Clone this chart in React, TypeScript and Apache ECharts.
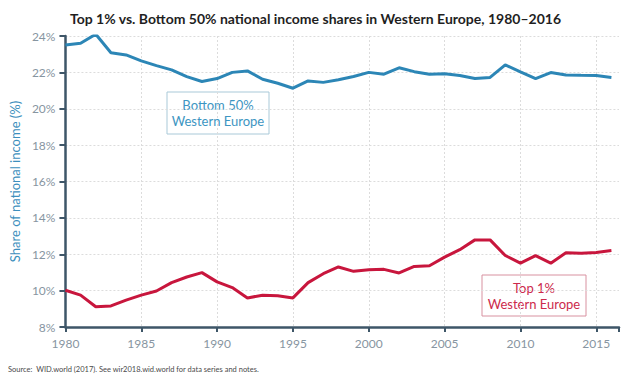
import React, { useEffect, useRef } from "react";
import * as echarts from "echarts";

const years: number[] = [
  1980, 1981, 1982, 1983, 1984, 1985, 1986, 1987, 1988, 1989, 1990, 1991, 1992,
  1993, 1994, 1995, 1996, 1997, 1998, 1999, 2000, 2001, 2002, 2003, 2004, 2005,
  2006, 2007, 2008, 2009, 2010, 2011, 2012, 2013, 2014, 2015, 2016,
];
const bottom50: number[] = [
  23.5, 23.6, 24.1, 23.08, 22.96, 22.63, 22.37, 22.14, 21.77, 21.5, 21.66, 22.0,
  22.08, 21.62, 21.4, 21.13, 21.53, 21.45, 21.59, 21.77, 22.0, 21.9, 22.25,
  22.04, 21.9, 21.92, 21.83, 21.66, 21.72, 22.41, 22.03, 21.66, 21.99, 21.86,
  21.84, 21.83, 21.72,
];
const top1: number[] = [
  10.02, 9.75, 9.11, 9.16, 9.48, 9.75, 9.98, 10.44, 10.75, 10.99, 10.48, 10.17,
  9.6, 9.75, 9.72, 9.6, 10.44, 10.93, 11.3, 11.06, 11.15, 11.17, 10.97, 11.33,
  11.37, 11.84, 12.25, 12.79, 12.79, 11.93, 11.51, 11.92, 11.51, 12.08, 12.06,
  12.1, 12.2,
];
const titleText = "Top 1% vs. Bottom 50% national income shares in Western Europe, 1980–2016";
const yAxisTitle = "Share of national income (%)";
const sourceText = "Source:  WID.world (2017). See wir2018.wid.world for data series and notes.";
const bottomLabel = ["Bottom 50%", "Western Europe"];
const topLabel = ["Top 1%", "Western Europe"];

const BLUE = "#2c86b6";
const RED = "#c8163d";
const AXIS = "#3e5668";
const FONT = "Lato, 'Noto Sans', sans-serif";

export default function App() {
  const ref = useRef<HTMLDivElement>(null);
  useEffect(() => {
    if (!ref.current) return;
    const chart = echarts.init(ref.current, undefined, { renderer: "svg" });
    chart.setOption({
      animation: false,
      backgroundColor: "#ffffff",
      title: {
        text: titleText,
        left: "center",
        top: 6,
        textStyle: { fontFamily: FONT, fontSize: 14, fontWeight: "bold", color: "#1f1f1f" },
      },
      grid: { left: 60, right: 12, top: 36, bottom: 58 },
      xAxis: {
        type: "value",
        min: 1980,
        max: 2016.5,
        interval: 5,
        axisLine: { show: true, lineStyle: { color: AXIS, width: 2.5 } },
        axisTick: { show: true, length: 5, lineStyle: { color: AXIS, width: 2 } },
        axisLabel: {
          margin: 10,
          color: "#8795a1",
          fontFamily: FONT,
          fontSize: 12,
          formatter: (v: number) => (v % 5 === 0 ? String(v) : ""),
        },
        splitLine: {
          show: true,
          showMinLine: false,
          showMaxLine: false,
          lineStyle: { color: "#dcdcdc", type: [2, 2], width: 1 },
        },
      },
      yAxis: {
        type: "value",
        min: 8,
        max: 24,
        interval: 2,
        name: yAxisTitle,
        nameLocation: "middle",
        nameGap: 42,
        nameTextStyle: { color: "#3d8fbd", fontFamily: FONT, fontSize: 13 },
        axisLine: { show: true, lineStyle: { color: AXIS, width: 2.5 } },
        axisTick: { show: true, length: 6, lineStyle: { color: AXIS, width: 2 } },
        axisLabel: {
          margin: 10,
          color: "#8795a1",
          fontFamily: FONT,
          fontSize: 12,
          formatter: (v: number) => `${v}%`,
        },
        splitLine: {
          show: true,
          showMinLine: false,
          lineStyle: { color: "#dcdcdc", type: [2, 2], width: 1 },
        },
      },
      series: [
        {
          type: "line",
          data: years.map((y, i) => [y, bottom50[i]]),
          symbol: "none",
          lineStyle: { color: BLUE, width: 3 },
        },
        {
          type: "line",
          data: years.map((y, i) => [y, top1[i]]),
          symbol: "none",
          lineStyle: { color: RED, width: 3 },
        },
      ],
      graphic: [
        {
          type: "rect",
          shape: { x: 167, y: 92, width: 102, height: 42 },
          style: { fill: "#ffffff", stroke: "#a9c9d8", lineWidth: 1 },
        },
        {
          type: "text",
          x: 218,
          y: 113,
          style: {
            text: bottomLabel.join("\n"),
            fill: "#3d95c2",
            font: `13px ${FONT}`,
            align: "center",
            verticalAlign: "middle",
            lineHeight: 16,
          },
        },
        {
          type: "rect",
          shape: { x: 482, y: 275, width: 104, height: 41 },
          style: { fill: "#ffffff", stroke: "#d891a0", lineWidth: 1 },
        },
        {
          type: "text",
          x: 534,
          y: 295.5,
          style: {
            text: topLabel.join("\n"),
            fill: "#cc2a4c",
            font: `13px ${FONT}`,
            align: "center",
            verticalAlign: "middle",
            lineHeight: 16,
          },
        },
        {
          type: "text",
          x: 8,
          y: 369,
          style: {
            text: sourceText,
            fill: "#4a4a4a",
            font: `7.5px ${FONT}`,
            verticalAlign: "middle",
          },
        },
      ],
    });
    return () => chart.dispose();
  }, []);
  return <div ref={ref} style={{ width: 631, height: 385, position: "absolute", left: 0, top: 0 }} />;
}
